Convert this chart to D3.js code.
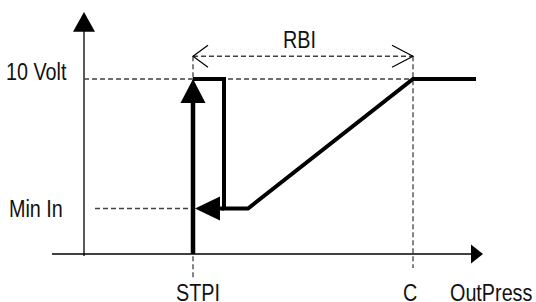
<!DOCTYPE html>
<html>
<head>
<meta charset="utf-8">
<script src="https://cdn.jsdelivr.net/npm/d3@7"></script>
<style>
  body { margin: 0; background: #fff; }
  text { font-family: "Liberation Sans", Arial, sans-serif; font-size: 23px; fill: #111; }
</style>
</head>
<body>
<svg id="chart" width="536" height="302"></svg>
<script>
// data (abstract units: pressure on x, volt on y)
var xMarks = ["STPI", "C"];
var xMarkValues = [27.25, 82.25];
var yMarks = ["10 Volt", "Min In"];
var yMarkValues = [10, 2.6];
var rangeLabel = "RBI";
var rangeLevel = 11.3;
var axisLabel = "OutPress";

// response curve after the step
var responseX = [27.25, 35, 35, 41, 82.25, 98];
var responseY = [10, 10, 2.6, 2.6, 10, 10];

function init() {
  var svg = d3.select("#chart");

  var x = d3.scaleLinear().domain([0, 100]).range([84, 484]);
  var y = d3.scaleLinear().domain([0, 10]).range([254, 79]);

  var dash = "#404040";

  function tri(pts) { return "M" + pts.map(function (p) { return p.join(","); }).join("L") + "Z"; }

  // axes
  svg.append("line")
    .attr("x1", x(0)).attr("x2", x(0))
    .attr("y1", y(-0.12)).attr("y2", y(13.4))
    .attr("stroke", "#000").attr("stroke-width", 1.3);
  svg.append("path")
    .attr("d", tri([[x(0), y(13.83)], [x(0) - 11, y(12.7)], [x(0) + 11, y(12.7)]]))
    .attr("fill", "#000");

  svg.append("line")
    .attr("x1", x(-8)).attr("x2", x(97))
    .attr("y1", y(0)).attr("y2", y(0))
    .attr("stroke", "#000").attr("stroke-width", 1.6);
  svg.append("path")
    .attr("d", tri([[x(99.75), y(0)], [x(96.75), y(0) - 9.5], [x(96.75), y(0) + 9.5]]))
    .attr("fill", "#000");

  // dashed guides
  var g = svg.append("g")
    .attr("stroke", dash).attr("stroke-width", 1.3)
    .attr("stroke-dasharray", "5,3").attr("fill", "none");

  g.append("line")
    .attr("x1", x(0)).attr("x2", x(xMarkValues[1]))
    .attr("y1", y(yMarkValues[0])).attr("y2", y(yMarkValues[0]));
  g.append("line")
    .attr("x1", x(2.75)).attr("x2", x(xMarkValues[0]))
    .attr("y1", y(yMarkValues[1])).attr("y2", y(yMarkValues[1]));
  g.append("line")
    .attr("x1", x(xMarkValues[0])).attr("x2", x(xMarkValues[0]))
    .attr("y1", y(rangeLevel)).attr("y2", y(-1.37));
  g.append("line")
    .attr("x1", x(xMarkValues[1])).attr("x2", x(xMarkValues[1]))
    .attr("y1", y(rangeLevel)).attr("y2", y(-0.8));
  g.append("line")
    .attr("x1", x(xMarkValues[0])).attr("x2", x(xMarkValues[1]))
    .attr("y1", y(rangeLevel)).attr("y2", y(rangeLevel));

  // open arrow heads of RBI range
  var ry = y(rangeLevel);
  svg.append("path")
    .attr("d", "M" + (x(xMarkValues[0]) + 15) + "," + (ry - 11) + "L" + x(xMarkValues[0]) + "," + ry +
      "L" + (x(xMarkValues[0]) + 15) + "," + (ry + 11))
    .attr("fill", "none").attr("stroke", "#000").attr("stroke-width", 1.2);
  svg.append("path")
    .attr("d", "M" + (x(xMarkValues[1]) - 21) + "," + (ry - 11) + "L" + x(xMarkValues[1]) + "," + ry +
      "L" + (x(xMarkValues[1]) - 21) + "," + (ry + 11))
    .attr("fill", "none").attr("stroke", "#000").attr("stroke-width", 1.2);

  // step at STPI with arrow up
  var sx = x(xMarkValues[0]);
  svg.append("line")
    .attr("x1", sx).attr("x2", sx)
    .attr("y1", y(0)).attr("y2", y(yMarkValues[0]) + 20)
    .attr("stroke", "#000").attr("stroke-width", 4.5);
  svg.append("path")
    .attr("d", tri([[sx, y(yMarkValues[0])], [sx - 12.5, y(yMarkValues[0]) + 24], [sx + 12.5, y(yMarkValues[0]) + 24]]))
    .attr("fill", "#000");

  // response curve
  var line = d3.line()
    .x(function (d) { return x(d[0]); })
    .y(function (d) { return y(d[1]); });
  svg.append("path")
    .datum(d3.zip(responseX, responseY))
    .attr("d", line)
    .attr("fill", "none").attr("stroke", "#000")
    .attr("stroke-width", 4).attr("stroke-linejoin", "miter");

  // arrow back to STPI at Min In
  var my = y(yMarkValues[1]);
  svg.append("line")
    .attr("x1", x(responseX[1])).attr("x2", sx + 22)
    .attr("y1", my).attr("y2", my)
    .attr("stroke", "#000").attr("stroke-width", 4);
  svg.append("path")
    .attr("d", tri([[sx + 2, my], [sx + 27, my - 12], [sx + 27, my + 12]]))
    .attr("fill", "#000");

  // labels
  function label(txt, px, py) {
    svg.append("text")
      .attr("transform", "translate(" + px + "," + py + ") scale(0.86,1)")
      .text(txt);
  }
  label(yMarks[0], 6, y(yMarkValues[0]) + 1);
  label(yMarks[1], 9, y(yMarkValues[1]) + 8);
  label(xMarks[0], sx - 17, 301);
  label(xMarks[1], x(xMarkValues[1]) - 10, 301);
  label(axisLabel, 450, 301);
  label(rangeLabel, 283, 48);
}
window.onload = init;
</script>
</body>
</html>
